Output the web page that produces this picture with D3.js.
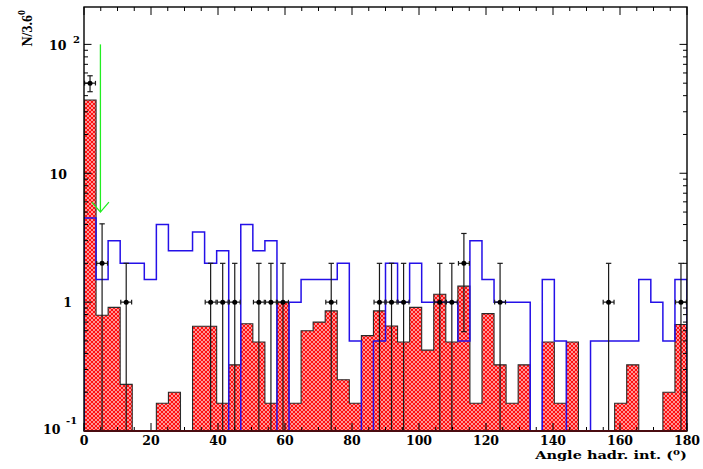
<!DOCTYPE html>
<html><head><meta charset="utf-8">
<script src="https://cdn.jsdelivr.net/npm/d3@7"></script>
<style>body{margin:0;background:#fff}</style>
</head><body>
<svg id="c" width="703" height="469" xmlns="http://www.w3.org/2000/svg"></svg>
<script>
// ---------- data ----------
const binWidth = 3.6;
const xTickValues = [0, 20, 40, 60, 80, 100, 120, 140, 160, 180];
const xTickLabels = ["0", "20", "40", "60", "80", "100", "120", "140", "160", "180"];
const yDecades = [0.1, 1, 10, 100];
// red hatched MC histogram (50 bins of 3.6 deg)
const redValues = [37, 0.79, 0.91, 0.23, 0, 0, 0.164, 0.2, 0, 0.65,
  0.65, 0.164, 0.326, 0.68, 0.49, 0.164, 1.0, 0.164, 0.6, 0.7,
  0.855, 0.25, 0.164, 0.55, 0.855, 0.653, 0.49, 0.91, 0.424, 1.15,
  0.49, 1.33, 0.164, 0.815, 0.326, 0.164, 0.326, 0, 0.49, 0.164,
  0.49, 0, 0, 0, 0.164, 0.326, 0, 0, 0.2, 0.67];
// blue outline histogram
const blueValues = [4.5, 1.5, 3, 2, 2, 1.5, 4, 2.5, 2.5, 3.5,
  2, 2.5, 0, 4, 2.5, 3, 0, 1, 1.5, 1.5,
  1.5, 2, 0.5, 0, 0.5, 2, 1, 2, 1, 1,
  1, 0.5, 3, 1.5, 1, 1, 1, 0, 1.5, 0.5,
  0, 0, 0.5, 0.5, 0.5, 0.5, 1.5, 1, 0.5, 1.5];
// data points
const dataBins   = [0, 1, 3, 10, 11, 12, 14, 15, 16, 20, 24, 25, 26, 29, 30, 31, 34, 43, 49];
const dataValues = [50, 2, 1, 1, 1, 1, 1, 1, 1, 1, 1, 1, 1, 1, 1, 2, 1, 1, 1];
const dataErrLow = [7.07, 2, 1, 1, 1, 1, 1, 1, 1, 1, 1, 1, 1, 1, 1, 1.41, 1, 1, 1];
const dataErrHigh= [7.07, 2.05, 1, 1, 1, 1, 1, 1, 1, 1, 1, 1, 1, 1, 1, 1.41, 1, 1, 1];
// green arrow (cut position)
const arrowX = 4.9, arrowTop = 100, arrowBottom = 5;

// ---------- layout ----------
const L = 84, R = 687, T = 7, B = 431;
const svg = d3.select("#c");
svg.append("rect").attr("width", 703).attr("height", 469).attr("fill", "#fff");

const x = d3.scaleLinear().domain([0, 180]).range([L, R]);
const y = d3.scaleLog().domain([0.1, 195]).range([B, T]);
const yc = v => (v > 0.1 ? y(v) : B);

const defs = svg.append("defs");
defs.append("clipPath").attr("id", "frame").append("rect")
  .attr("x", L).attr("y", T).attr("width", R - L).attr("height", B - T);
const pat = defs.append("pattern").attr("id", "hatch").attr("patternUnits", "userSpaceOnUse")
  .attr("width", 4).attr("height", 4);
pat.append("rect").attr("width", 4).attr("height", 4).attr("fill", "#ff1010");
pat.append("path").attr("d", "M2,0.9 L3.1,2 L2,3.1 L0.9,2 Z M0,-1.1 L1.1,0 L0,1.1 L-1.1,0 Z M4,-1.1 L5.1,0 L4,1.1 L2.9,0 Z M0,2.9 L1.1,4 L0,5.1 L-1.1,4 Z M4,2.9 L5.1,4 L4,5.1 L2.9,4 Z")
  .attr("fill", "#ffffff");

const plot = svg.append("g").attr("clip-path", "url(#frame)");

function stepPoints(vals) {
  const pts = [[x(0), B]];
  vals.forEach((v, k) => {
    pts.push([x(k * binWidth), yc(v)]);
    pts.push([x((k + 1) * binWidth), yc(v)]);
  });
  pts.push([x(180), B]);
  return pts;
}
const line = d3.line();

// red filled histogram
plot.append("path").attr("d", line(stepPoints(redValues)) + "Z")
  .attr("fill", "url(#hatch)").attr("stroke", "none");
plot.append("path").attr("d", line(stepPoints(redValues)))
  .attr("fill", "none").attr("stroke", "#2a2a2a").attr("stroke-width", 1.1);

// blue histogram
plot.append("path").attr("d", line(stepPoints(blueValues)))
  .attr("fill", "none").attr("stroke", "#2410e8").attr("stroke-width", 1.5);

// data points with error bars
const dg = plot.append("g").attr("stroke", "#1a1a1a").attr("stroke-width", 1.2);
dataBins.forEach((k, i) => {
  const cx = x((k + 0.5) * binWidth);
  const v = dataValues[i];
  const cy = y(v);
  const yHi = y(v + dataErrHigh[i]);
  const lo = v - dataErrLow[i];
  const yLo = lo > 0.1 ? y(lo) : B + 2;
  dg.append("line").attr("x1", cx).attr("x2", cx).attr("y1", yHi).attr("y2", yLo);
  dg.append("line").attr("x1", cx - 2.7).attr("x2", cx + 2.7).attr("y1", yHi).attr("y2", yHi);
  if (lo > 0.1) dg.append("line").attr("x1", cx - 2.7).attr("x2", cx + 2.7).attr("y1", yLo).attr("y2", yLo);
  const xl = x(k * binWidth) + 0.6, xr = x((k + 1) * binWidth) - 0.6;
  dg.append("line").attr("x1", xl).attr("x2", xr).attr("y1", cy).attr("y2", cy);
  dg.append("line").attr("x1", xl).attr("x2", xl).attr("y1", cy - 2.3).attr("y2", cy + 2.3);
  dg.append("line").attr("x1", xr).attr("x2", xr).attr("y1", cy - 2.3).attr("y2", cy + 2.3);
  dg.append("circle").attr("cx", cx).attr("cy", cy).attr("r", 2.5).attr("fill", "#000").attr("stroke", "none");
});

// green arrow
const ax = x(arrowX), ay0 = y(arrowTop), ay1 = y(arrowBottom);
const ag = svg.append("g").attr("stroke", "#22ee22").attr("stroke-width", 1.3).attr("fill", "none");
ag.append("line").attr("x1", ax).attr("x2", ax).attr("y1", ay0).attr("y2", ay1);
ag.append("path").attr("d", `M${ax - 8.5},${ay1 - 10} L${ax},${ay1} L${ax + 8.5},${ay1 - 10}`);

// ---------- axes ----------
const axg = svg.append("g").attr("stroke", "#000").attr("stroke-width", 1);
const xMinor = d3.range(0, 181, 5);
xMinor.forEach(t => {
  const len = (t % 20 === 0) ? 8 : 4;
  const px = x(t);
  axg.append("line").attr("x1", px).attr("x2", px).attr("y1", B).attr("y2", B - len);
  axg.append("line").attr("x1", px).attr("x2", px).attr("y1", T).attr("y2", T + len);
});
const yTicks = [];
yDecades.forEach(d => { for (let m = 1; m <= 9; m++) { const v = d * m; if (v <= 195) yTicks.push([v, m === 1]); } });
yTicks.forEach(([v, major]) => {
  const py = y(v);
  const len = major ? 7.5 : 4;
  axg.append("line").attr("x1", L).attr("x2", L + len).attr("y1", py).attr("y2", py);
  axg.append("line").attr("x1", R).attr("x2", R - len).attr("y1", py).attr("y2", py);
});
// frame
svg.append("rect").attr("x", L).attr("y", T).attr("width", R - L).attr("height", B - T)
  .attr("fill", "none").attr("stroke", "#000").attr("stroke-width", 1.4);
svg.append("line").attr("x1", L).attr("x2", R).attr("y1", B).attr("y2", B)
  .attr("stroke", "#4a0c10").attr("stroke-width", 2.2);

// x tick labels
const lab = svg.append("g").attr("font-family", "DejaVu Serif").attr("font-weight", "bold")
  .attr("font-size", 12.5).attr("fill", "#000");
xTickValues.forEach((t, i) => {
  lab.append("text").attr("x", x(t)).attr("y", 445).attr("text-anchor", "middle").text(xTickLabels[i]);
});
// y tick labels
const t2 = lab.append("text").attr("x", 49).attr("y", 50);
t2.append("tspan").text("10");
t2.append("tspan").attr("x", 73).attr("y", 43).attr("font-size", 10).text("2");
lab.append("text").attr("x", 67).attr("y", 179).attr("text-anchor", "end").text("10");
lab.append("text").attr("x", 72).attr("y", 307).attr("text-anchor", "end").text("1");
const tm1 = lab.append("text").attr("x", 43).attr("y", 434);
tm1.append("tspan").text("10");
tm1.append("tspan").attr("x", 66).attr("y", 424).attr("font-size", 10).text("-1");

// axis titles
const xt = svg.append("text").attr("font-family", "DejaVu Serif").attr("font-weight", "bold")
  .attr("font-size", 11.5).attr("text-anchor", "end");
xt.append("tspan").text("Angle hadr. int. (");
xt.append("tspan").attr("dy", -4).attr("font-size", 8).text("0");
xt.append("tspan").attr("dy", 4).text(")");
const w = xt.node().getComputedTextLength();
const sx = 152 / w;
xt.attr("transform", `translate(${R},459) scale(${sx},1)`);

const yt = svg.append("text").attr("font-family", "Liberation Serif").attr("font-weight", "bold")
  .attr("font-size", 14).attr("transform", "translate(32,10) rotate(-90)").attr("text-anchor", "end");
yt.append("tspan").text("N/3.6");
yt.append("tspan").attr("dy", -7).attr("font-size", 10).text("0");
</script>
</body></html>
